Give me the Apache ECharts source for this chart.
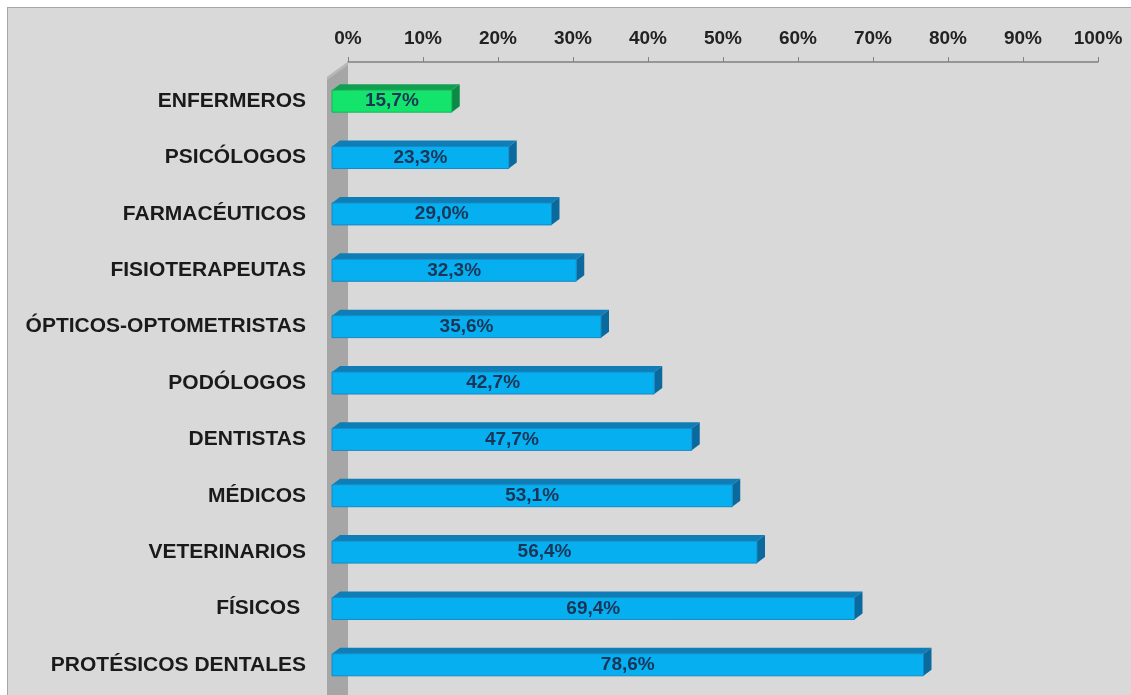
<!DOCTYPE html>
<html>
<head>
<meta charset="utf-8">
<script src="https://cdn.jsdelivr.net/npm/echarts@6/dist/echarts.min.js"></script>
<style>
  html, body { margin: 0; padding: 0; background: #ffffff; width: 1131px; height: 695px; overflow: hidden; }
  #chart { position: absolute; left: 7px; top: 7px; width: 1124px; height: 688px;
           background: #d9d9d9; border-top: 1px solid #a6a6a6; border-left: 1px solid #a6a6a6; }
</style>
</head>
<body>
<div id="chart"></div>
<script>
const categories = ['ENFERMEROS', 'PSICÓLOGOS', 'FARMACÉUTICOS', 'FISIOTERAPEUTAS', 'ÓPTICOS-OPTOMETRISTAS',
  'PODÓLOGOS', 'DENTISTAS', 'MÉDICOS', 'VETERINARIOS', 'FÍSICOS ', 'PROTÉSICOS DENTALES'];
const values = [15.7, 23.3, 29.0, 32.3, 35.6, 42.7, 47.7, 53.1, 56.4, 69.4, 78.6];
const xTickValues = [0, 10, 20, 30, 40, 50, 60, 70, 80, 90, 100];
const highlightCategory = 'ENFERMEROS';

const FONT = '"Liberation Sans", Arial, Helvetica, sans-serif';
const AXIS_OFFSET = 11;

const blue = { front: '#06b0f0', top: '#0f7db6', side: '#0a6a9e', edge: '#1688c4' };
const green = { front: '#14e36c', top: '#11a052', side: '#0c8a45', edge: '#10b858' };

const chart = echarts.init(document.getElementById('chart'));

function fmt(v) { return v.toFixed(1).replace('.', ',') + '%'; }

chart.setOption({
  animation: false,
  grid: { left: 340, right: 34, top: 65, height: 620 },
  xAxis: {
    type: 'value', position: 'top', offset: AXIS_OFFSET,
    min: xTickValues[0], max: xTickValues[xTickValues.length - 1], interval: 10,
    axisLine: { show: true, lineStyle: { color: '#808080', width: 1.5 } },
    axisTick: { show: true, length: 5, lineStyle: { color: '#808080' } },
    splitLine: { show: false },
    axisLabel: {
      formatter: '{value}%', margin: 14, fontSize: 19, fontWeight: 'bold',
      fontFamily: FONT, color: '#222222'
    }
  },
  yAxis: {
    type: 'category', inverse: true, data: categories, offset: 21,
    axisLine: { show: false },
    axisTick: { show: true, length: 7, lineStyle: { color: '#808080' } },
    axisLabel: {
      margin: 21, fontSize: 21, fontWeight: 'bold', fontFamily: FONT, color: '#1a1a1a'
    }
  },
  series: [
    {
      type: 'custom',
      name: 'wall',
      silent: true,
      data: [[0, 0]],
      encode: { x: 0, y: 1 },
      renderItem: function (params, api) {
        const cs = params.coordSys;
        const x0 = api.coord([0, 0])[0];
        const top = cs.y - AXIS_OFFSET;
        const bottom = cs.y + cs.height + 20;
        return {
          type: 'group',
          children: [
            { type: 'polygon', shape: { points: [[x0 - 21, top + 15], [x0, top], [x0, bottom], [x0 - 21, bottom]] },
              style: { fill: '#a6a6a6' } },
            { type: 'polygon', shape: { points: [[x0 - 21, top + 15], [x0, top], [x0, top + 3], [x0 - 21, top + 18]] },
              style: { fill: '#b8b8b8' } }
          ]
        };
      }
    },
    {
      type: 'custom',
      name: 'valores',
      data: values.map((v, i) => [v, i]),
      encode: { x: 0, y: 1 },
      renderItem: function (params, api) {
        const v = api.value(0), i = api.value(1);
        const p0 = api.coord([0, i]);
        const p1 = api.coord([v, i]);
        const cy = p0[1];
        const c = categories[i] === highlightCategory ? green : blue;
        const fx0 = p0[0] - 16, fx1 = p1[0] - 14;
        const hh = 11, dx = 8, dy = 6;
        return {
          type: 'group',
          children: [
            { type: 'polygon',
              shape: { points: [[fx0, cy - hh], [fx1, cy - hh], [fx1 + dx, cy - hh - dy], [fx0 + dx, cy - hh - dy]] },
              style: { fill: c.top } },
            { type: 'polygon',
              shape: { points: [[fx1, cy - hh], [fx1 + dx, cy - hh - dy], [fx1 + dx, cy + hh - dy], [fx1, cy + hh]] },
              style: { fill: c.side } },
            { type: 'rect',
              shape: { x: fx0, y: cy - hh, width: fx1 - fx0, height: 2 * hh },
              style: { fill: c.front, stroke: c.edge, lineWidth: 1 } },
            { type: 'text',
              style: { text: fmt(v), x: (fx0 + fx1) / 2, y: cy, align: 'center', verticalAlign: 'middle',
                       fill: '#1b3558', font: 'bold 19px ' + FONT } }
          ]
        };
      }
    }
  ]
});
</script>
</body>
</html>
